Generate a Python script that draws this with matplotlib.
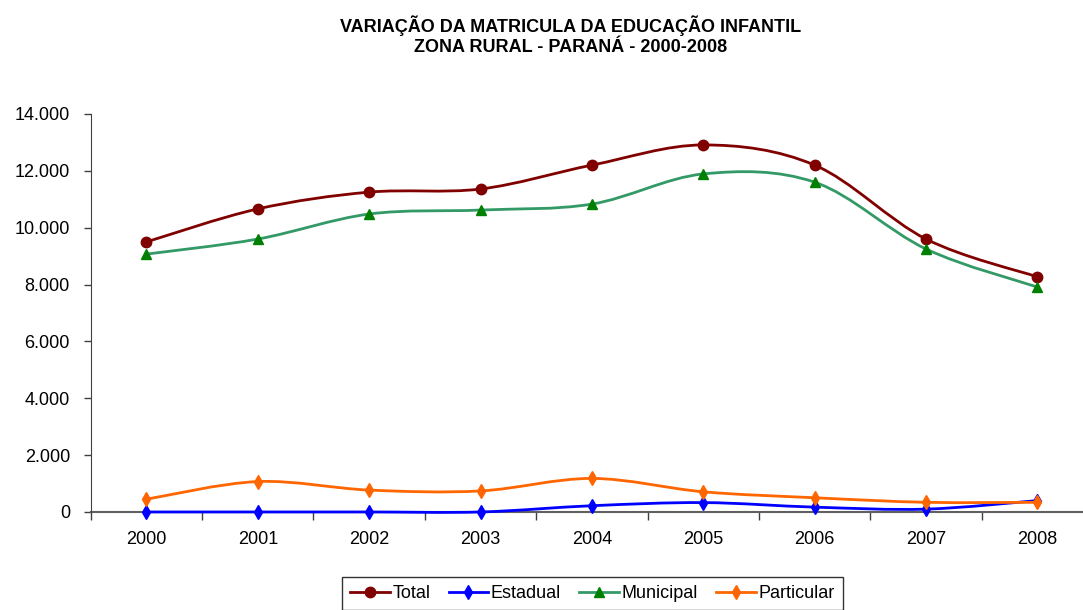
import matplotlib
matplotlib.use("Agg")
import matplotlib.pyplot as plt
from matplotlib.path import Path
from matplotlib.patches import PathPatch
from matplotlib.lines import Line2D
from matplotlib.ticker import FuncFormatter, FixedLocator
import numpy as np

plt.rcParams['font.family'] = ['Liberation Sans', 'DejaVu Sans']

anos = ['2000', '2001', '2002', '2003', '2004', '2005', '2006', '2007', '2008']
total = [9500, 10660, 11250, 11360, 12200, 12910, 12200, 9600, 8270]
estadual = [0, 0, 0, 0, 220, 330, 170, 100, 400]
municipal = [9070, 9600, 10480, 10620, 10830, 11890, 11600, 9250, 7910]
particular = [450, 1070, 770, 740, 1180, 710, 500, 340, 340]

series = [
    ('Total', total, '#800000', '#800000', 'o', 7.5),
    ('Estadual', estadual, '#0000FF', '#0000FF', 'd', 7),
    ('Municipal', municipal, '#339966', '#008000', '^', 7.5),
    ('Particular', particular, '#FF6600', '#FF6600', 'd', 7),
]


def smooth_path(xs, ys):
    # curva suavizada estilo Excel (bezier com pontos de controle a 1/6)
    pts = np.column_stack([xs, ys]).astype(float)
    verts = [pts[0]]
    codes = [Path.MOVETO]
    n = len(pts)
    for i in range(n - 1):
        p0 = pts[max(i - 1, 0)]
        p1 = pts[i]
        p2 = pts[i + 1]
        p3 = pts[min(i + 2, n - 1)]
        c1 = p1 + (p2 - p0) / 6.0
        c2 = p2 - (p3 - p1) / 6.0
        verts += [c1, c2, p2]
        codes += [Path.CURVE4] * 3
    return Path(verts, codes)


fig = plt.figure(figsize=(10.83, 6.10), dpi=100)
ax = fig.add_axes([0.0838, 0.1607, 0.9255, 0.6525])

x = np.arange(len(anos))
handles = []
for k, (nome, vals, cor_linha, cor_marc, marc, ms) in enumerate(series):
    ax.add_patch(PathPatch(smooth_path(x, vals), fill=False, edgecolor=cor_linha,
                           lw=2.0, zorder=3 + k, clip_on=False))
    ax.plot(x, vals, linestyle='none', marker=marc, markersize=ms,
            color=cor_marc, markeredgecolor=cor_marc, zorder=3 + k, clip_on=False)
    handles.append(Line2D([], [], color=cor_linha, lw=2.0, marker=marc, markersize=ms,
                          markerfacecolor=cor_marc, markeredgecolor=cor_marc))

ax.set_xlim(-0.5, len(anos) - 0.5)
ax.set_ylim(0, 14000)
ax.set_yticks(np.arange(0, 14001, 2000))
ax.yaxis.set_major_formatter(FuncFormatter(lambda v, p: f"{int(v):,}".replace(',', '.')))
ax.set_xticks(x)
ax.set_xticklabels(anos)
ax.xaxis.set_minor_locator(FixedLocator(np.arange(-0.5, len(anos), 1.0)))
ax.tick_params(axis='x', which='major', length=0, pad=14, labelsize=13)
ax.tick_params(axis='x', which='minor', length=6, width=1, color='#404040', direction='out')
ax.tick_params(axis='y', length=5, width=1, color='#404040', direction='out', pad=10, labelsize=13)

for s in ['top', 'right']:
    ax.spines[s].set_visible(False)
ax.spines['left'].set_color('#404040')
ax.spines['bottom'].set_color('#606060')
ax.spines['bottom'].set_linewidth(1.5)
ax.spines['bottom'].set_zorder(2)

fig.text(0.527, 0.975, 'VARIAÇÃO DA MATRICULA DA EDUCAÇÃO INFANTIL\nZONA RURAL - PARANÁ - 2000-2008',
         ha='center', va='top', fontsize=13, fontweight='bold', linespacing=1.2)

leg = fig.legend(handles, [s[0] for s in series], loc='upper center',
                 bbox_to_anchor=(0.547, 1 - 577 / 610), borderaxespad=0, ncol=4, fontsize=13,
                 frameon=True, fancybox=False, edgecolor='black', handlelength=2.2,
                 columnspacing=1.0, handletextpad=0.15, borderpad=0.45)
leg.get_frame().set_linewidth(1.0)

fig.savefig('out.png', dpi=100)
